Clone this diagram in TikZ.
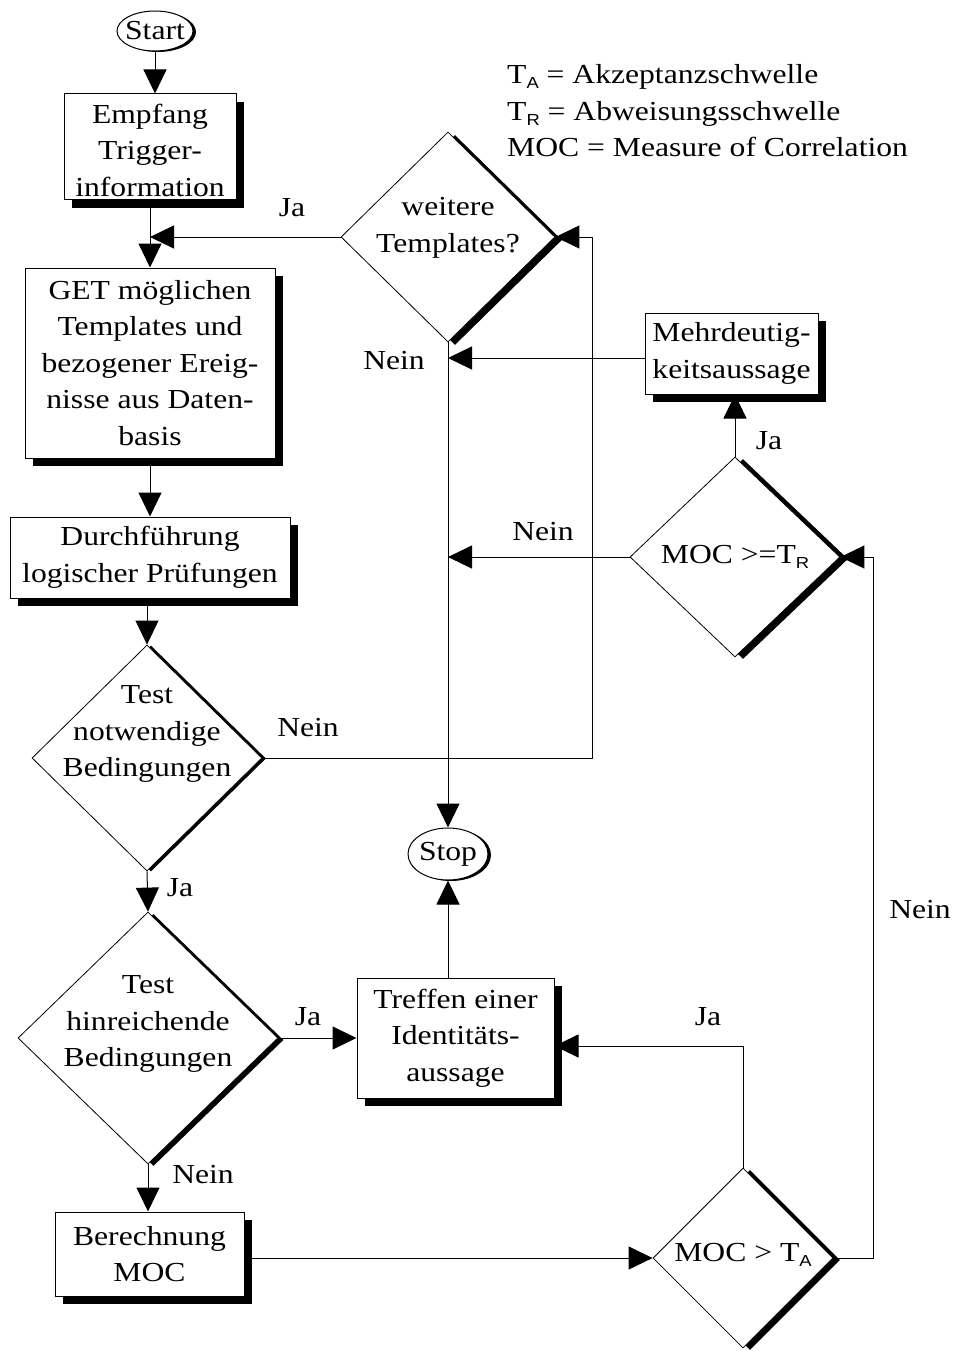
\documentclass[tikz,border=0pt]{standalone}
\usepackage{fontspec}
\setmainfont{Liberation Serif}[FakeStretch=1.15]
\setsansfont{Liberation Sans}[FakeStretch=1.15]
\usetikzlibrary{shapes.geometric,shadows,arrows.meta}
% small sans-serif index for threshold symbols
\newcommand{\thidx}[1]{\raisebox{-5pt}{\fontsize{16pt}{16pt}\selectfont\sffamily #1}}

\begin{document}
\begin{tikzpicture}[x=1pt,y=-1pt,
  every node/.style={font=\fontsize{27.5pt}{36.5pt}\selectfont, inner sep=0pt},
  box/.style={draw, fill=white, line width=1pt,
    drop shadow={shadow xshift=8pt, shadow yshift=-8pt, fill=black, opacity=1}},
  term/.style={ellipse, draw, fill=white, line width=1pt,
    drop shadow={shadow xshift=3pt, shadow yshift=-1pt, fill=black, opacity=1}},
  dec/.style 2 args={diamond, draw, fill=white, line width=0.8pt,
    drop shadow={shadow xshift=#1pt, shadow yshift=-#2pt, fill=black, opacity=1}},
  txt/.style={align=center},
  flow/.style={line width=1pt, -{Triangle[length=24pt,width=23pt]}},
]
\useasboundingbox (0,0) rectangle (956,1351);

% legend
\node[anchor=west, align=left] (legend) at (507,111)
  {T\thidx{A} = Akzeptanzschwelle\\T\thidx{R} = Abweisungsschwelle\\MOC = Measure of Correlation};

% terminals
\node[term, minimum width=76pt, minimum height=40pt,
  label={[txt]center:Start}] (start) at (155,31) {};
\node[term, minimum width=80pt, minimum height=52pt,
  label={[txt]center:Stop}] (stop) at (448,854) {};

% process boxes
\node[box, minimum width=172pt, minimum height=106pt,
  label={[txt, yshift=-3pt]center:Empfang\\Trigger-\\information}] (emp) at (150,147) {};
\node[box, minimum width=250pt, minimum height=190pt,
  label={[txt]center:GET möglichen\\Templates und\\bezogener Ereig-\\nisse aus Daten-\\basis}] (get) at (150,363) {};
\node[box, minimum width=280pt, minimum height=81pt,
  label={[txt]center:Durchführung\\logischer Prüfungen}] (durch) at (150,557.5) {};
\node[box, minimum width=189pt, minimum height=84pt,
  label={[txt]center:Berechnung\\MOC}] (ber) at (149.5,1254) {};
\node[box, minimum width=197pt, minimum height=120pt,
  label={[txt]center:Treffen einer\\Identitäts-\\aussage}] (tr) at (455.5,1038) {};
\node[box, minimum width=173pt, minimum height=81pt,
  label={[txt]center:Mehrdeutig-\\keitsaussage}] (md) at (731.5,353.5) {};

% decisions
\node[dec={7}{3}, minimum width=214pt, minimum height=210pt,
  label={[txt, yshift=9pt]center:weitere\\Templates?}] (wt) at (448,237) {};
\node[dec={4}{0.5}, minimum width=230pt, minimum height=226pt,
  label={[txt, yshift=24pt]center:Test\\notwendige\\Bedingungen}] (tn) at (147,758) {};
\node[dec={5.5}{2}, minimum width=260pt, minimum height=252pt,
  label={[txt, yshift=14pt]center:Test\\hinreichende\\Bedingungen}] (th) at (148,1038) {};
\node[dec={8}{2}, minimum width=210pt, minimum height=200pt,
  label={[txt]center:MOC >=T\thidx{R}}] (mocr) at (735,557) {};
\node[dec={7}{2}, minimum width=180pt, minimum height=180pt,
  label={[txt, yshift=3pt]center:MOC > T\thidx{A}}] (moca) at (743,1258) {};

% connectors
\draw[flow] (start.south) -- (start.south |- emp.north);
\draw[flow] (emp.south) -- (get.north);
\draw[flow] (get.south) -- (durch.north);
\draw[flow] (durch.south -| tn.north) -- (tn.north);
\draw[flow] (tn.south) -- (th.north);
\draw[flow] (th.east) -- (tr.west);
\draw[flow] (th.south) -- (th.south |- ber.north);
\draw[flow] (ber.east |- moca.west) -- (moca.west);
\draw[flow] (moca.north) |- ([yshift=-8pt]tr.east);
\draw[flow] (moca.east) -- ++(40,0) |- (mocr.east);
\draw[flow] (stop.south |- tr.north) -- (stop.south);
\draw[flow] (wt.south) -- (stop.north);
\draw[flow] (wt.west) -- (wt.west -| emp.south);
\draw[flow] ([yshift=-4.5pt]md.west) -- ([yshift=-4.5pt]md.west -| wt.south);
\draw[flow] (mocr.north) -- (mocr.north |- md.south);
\draw[flow] (mocr.west) -- (mocr.west -| wt.south);
\draw[flow] (tn.east) -- ++(330,0) |- (wt.east);

% branch labels
\node (l1) at (292,208) {Ja};
\node (l2) at (394,361) {Nein};
\node (l3) at (769,441) {Ja};
\node (l4) at (543,532) {Nein};
\node (l5) at (308,728) {Nein};
\node (l6) at (180,888) {Ja};
\node (l7) at (308,1017) {Ja};
\node (l8) at (708,1017) {Ja};
\node (l9) at (920,910) {Nein};
\node (l10) at (203,1175) {Nein};
\end{tikzpicture}
\end{document}
